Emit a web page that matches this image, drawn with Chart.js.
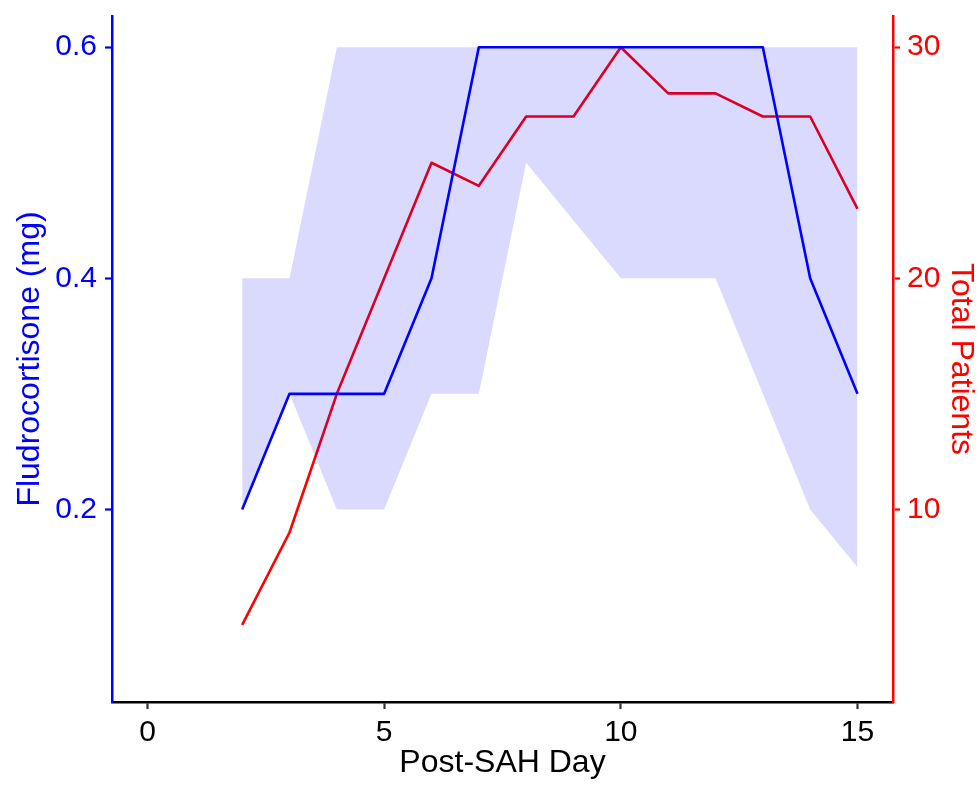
<!DOCTYPE html>
<html>
<head>
<meta charset="utf-8">
<script src="https://cdn.jsdelivr.net/npm/chart.js@4/dist/chart.umd.min.js"></script>
<style>
  html, body { margin: 0; padding: 0; background: #ffffff; }
  #wrap { width: 980px; height: 785px; position: relative; }
</style>
</head>
<body>
<div id="wrap"><canvas id="c"></canvas></div>
<script>
// ---- data ----
const days = [2, 3, 4, 5, 6, 7, 8, 9, 10, 11, 12, 13, 14, 15];
const fludroMedian = [0.2, 0.3, 0.3, 0.3, 0.4, 0.6, 0.6, 0.6, 0.6, 0.6, 0.6, 0.6, 0.4, 0.3];
const fludroLower  = [0.2, 0.3, 0.2, 0.2, 0.3, 0.3, 0.5, 0.45, 0.4, 0.4, 0.4, 0.3, 0.2, 0.15];
const fludroUpper  = [0.4, 0.4, 0.6, 0.6, 0.6, 0.6, 0.6, 0.6, 0.6, 0.6, 0.6, 0.6, 0.6, 0.6];
const totalPatients = [5, 9, 15, 20, 25, 24, 27, 27, 30, 28, 28, 27, 27, 23];

const xTicks = [0, 5, 10, 15];
const yTicks = [0.2, 0.4, 0.6];
const y2Ticks = [10, 20, 30];

const xTitle = 'Post-SAH Day';
const yTitle = 'Fludrocortisone (mg)';
const y2Title = 'Total Patients';

const pts = (vals) => days.map((d, i) => ({ x: d, y: vals[i] }));

const FONT = '"Liberation Sans", Arial, Helvetica, sans-serif';
const TICK_SIZE = 30;
const TITLE_SIZE = 32;

function noPad(s) {
  s.paddingTop = 0; s.paddingBottom = 0; s.paddingLeft = 0; s.paddingRight = 0;
}

new Chart(document.getElementById('c'), {
  type: 'line',
  data: {
    datasets: [
      {
        label: y2Title,
        data: pts(totalPatients),
        yAxisID: 'y2',
        borderColor: '#FF0000',
        borderWidth: 2.6,
        pointRadius: 0,
        fill: false,
        tension: 0,
        borderJoinStyle: 'round',
        order: 3
      },
      {
        label: 'lower',
        data: pts(fludroLower),
        yAxisID: 'y',
        borderColor: 'rgba(0,0,0,0)',
        borderWidth: 0,
        pointRadius: 0,
        fill: false,
        tension: 0,
        order: 2
      },
      {
        label: 'upper',
        data: pts(fludroUpper),
        yAxisID: 'y',
        borderColor: 'rgba(0,0,0,0)',
        borderWidth: 0,
        pointRadius: 0,
        backgroundColor: 'rgba(0,0,255,0.145)',
        fill: '-1',
        tension: 0,
        order: 2
      },
      {
        label: yTitle,
        data: pts(fludroMedian),
        yAxisID: 'y',
        borderColor: '#0000FF',
        borderWidth: 2.6,
        pointRadius: 0,
        fill: false,
        tension: 0,
        borderJoinStyle: 'round',
        order: 1
      }
    ]
  },
  options: {
    responsive: true,
    maintainAspectRatio: false,
    animation: false,
    layout: { padding: { top: 16, left: 0, right: 0, bottom: 0 } },
    plugins: {
      legend: { display: false },
      tooltip: { enabled: false }
    },
    scales: {
      x: {
        type: 'linear',
        position: 'bottom',
        min: -0.75,
        max: 15.75,
        afterBuildTicks: (s) => { s.ticks = xTicks.map(v => ({ value: v })); },
        afterFit: (s) => { s.height = 83; noPad(s); },
        border: { display: true, color: '#000000', width: 2.5 },
        grid: { display: true, drawOnChartArea: false, drawTicks: true, tickLength: 7, tickWidth: 2.2, tickColor: '#333333' },
        ticks: { color: '#000000', font: { family: FONT, size: TICK_SIZE }, padding: 6, maxRotation: 0, autoSkip: false },
        title: { display: true, text: xTitle, color: '#000000', font: { family: FONT, size: TITLE_SIZE }, padding: { top: 0, bottom: 3 } }
      },
      y: {
        type: 'linear',
        position: 'left',
        min: 0.0333,
        max: 0.627,
        afterBuildTicks: (s) => { s.ticks = yTicks.map(v => ({ value: v })); },
        afterFit: (s) => { s.width = 112; noPad(s); },
        border: { display: true, color: '#0000FF', width: 2.5 },
        grid: { display: true, drawOnChartArea: false, drawTicks: true, tickLength: 7, tickWidth: 2.2, tickColor: '#0000FF' },
        ticks: { color: '#0000FF', font: { family: FONT, size: TICK_SIZE }, padding: 8, callback: (v) => Number(v).toFixed(1) },
        title: { display: true, text: yTitle, color: '#0000FF', font: { family: FONT, size: TITLE_SIZE }, padding: { top: 11, bottom: 0 } }
      },
      y2: {
        type: 'linear',
        position: 'right',
        min: 1.665,
        max: 31.35,
        afterBuildTicks: (s) => { s.ticks = y2Ticks.map(v => ({ value: v })); },
        afterFit: (s) => { s.width = 87; noPad(s); },
        border: { display: true, color: '#FF0000', width: 2.5 },
        grid: { display: true, drawOnChartArea: false, drawTicks: true, tickLength: 7, tickWidth: 2.2, tickColor: '#FF0000' },
        ticks: { color: '#FF0000', font: { family: FONT, size: TICK_SIZE }, padding: 7, callback: (v) => String(v) },
        title: { display: true, text: y2Title, color: '#FF0000', font: { family: FONT, size: TITLE_SIZE }, padding: { top: 0, bottom: 0 } }
      }
    }
  }
});
</script>
</body>
</html>
